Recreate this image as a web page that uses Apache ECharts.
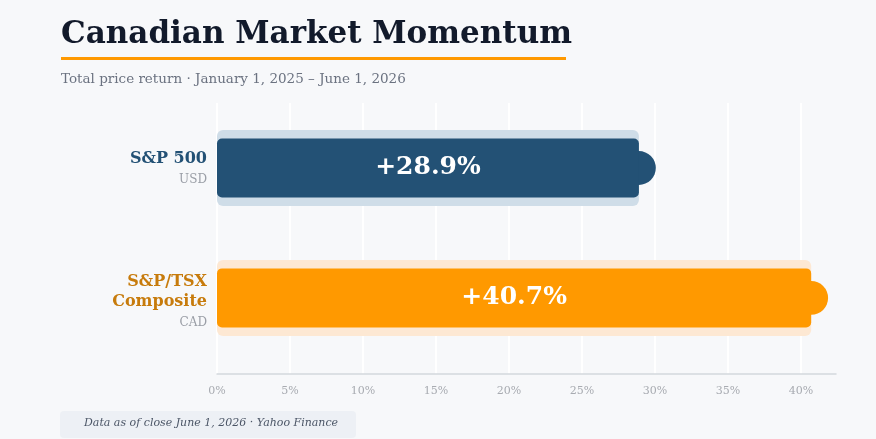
<!DOCTYPE html>
<html>
<head>
<meta charset="utf-8">
<script src="https://cdn.jsdelivr.net/npm/echarts@6/dist/echarts.min.js"></script>
<style>
  html, body { margin: 0; padding: 0; background: #f7f8fa; }
  #main { width: 876px; height: 439px; }
</style>
</head>
<body>
<div id="main"></div>
<script>
// data
var indexNames = ['S&P 500', 'S&P/TSX\nComposite'];
var currencies = ['USD', 'CAD'];
var returns = [28.9, 40.7];
var xTicks = [0, 5, 10, 15, 20, 25, 30, 35, 40];

var barColors = ['#235175', '#ff9900'];
var haloColors = ['#cfdde8', '#fde8d3'];
var nameColors = ['#235175', '#c77b0c'];

var serif = '"DejaVu Serif", "Liberation Serif", Georgia, serif';

var myChart = echarts.init(document.getElementById('main'));

var seriesData = returns.map(function (v, i) { return [i, v]; });

function renderBar(params, api) {
    var i = params.dataIndex;
    var idx = api.value(0);
    var v = api.value(1);
    var start = api.coord([0, idx]);
    var end = api.coord([v, idx]);
    var unit = api.size([0, 1])[1];
    var haloH = unit * 0.585, barH = unit * 0.455, capR = unit * 0.13;
    var x0 = start[0], cy = start[1], w = end[0] - start[0];

    var children = [
        { type: 'rect', shape: { x: x0, y: cy - haloH / 2, width: w, height: haloH, r: 6 },
          style: { fill: haloColors[i] } },
        { type: 'circle', shape: { cx: end[0], cy: cy, r: capR },
          style: { fill: barColors[i] } },
        { type: 'rect', shape: { x: x0, y: cy - barH / 2, width: w, height: barH, r: 5 },
          style: { fill: barColors[i] } },
        { type: 'text', x: x0 + w / 2, y: cy,
          style: { text: '+' + v.toFixed(1) + '%', fill: '#ffffff', font: 'bold 25px ' + serif,
                   align: 'center', verticalAlign: 'middle' } }
    ];
    // category labels left of the axis
    var lines = indexNames[i].split('\n');
    var lh = 20;
    var top = cy - (lines.length * lh + 20) / 2 + 1 + (lines.length - 1) * 3;
    lines.forEach(function (ln, k) {
        children.push({ type: 'text', x: x0 - 10, y: top + k * lh + lh / 2,
            style: { text: ln, fill: nameColors[i], font: 'bold 16px ' + serif,
                     align: 'right', verticalAlign: 'middle' } });
    });
    children.push({ type: 'text', x: x0 - 10, y: top + lines.length * lh + 11,
        style: { text: currencies[i], fill: '#9a9ea6', font: '12px ' + serif,
                 align: 'right', verticalAlign: 'middle' } });
    return { type: 'group', children: children };
}

var option = {
    backgroundColor: '#f7f8fa',
    animation: false,
    title: {
        left: 56,
        top: 14,
        text: 'Canadian Market Momentum',
        textStyle: { fontFamily: serif, fontWeight: 'bold', fontSize: 31, color: '#121a2b' },
        subtext: 'Total price return · January 1, 2025 – June 1, 2026',
        subtextStyle: { fontFamily: serif, fontSize: 13.5, color: '#6b7280' },
        itemGap: 22
    },
    grid: { left: 217, right: 40, top: 103, bottom: 65 },
    xAxis: {
        type: 'value',
        min: 0,
        max: 42.4,
        interval: 5,
        axisLine: { show: true, onZero: false, lineStyle: { color: '#d4d7dd', width: 1.5 } },
        axisTick: { show: false },
        axisLabel: {
            margin: 12,
            color: '#a8abb1',
            fontFamily: serif,
            fontSize: 11,
            showMaxLabel: false,
            formatter: function (v) { return xTicks.indexOf(v) >= 0 ? v + '%' : ''; }
        },
        splitLine: { show: true, showMaxLine: false, lineStyle: { color: '#ffffff', width: 2 } }
    },
    yAxis: {
        type: 'value',
        inverse: true,
        min: -0.5,
        max: 1.585,
        show: false
    },
    series: [{
        type: 'custom',
        renderItem: renderBar,
        encode: { x: 1, y: 0 },
        data: seriesData,
        clip: false
    }],
    graphic: [
        { type: 'rect', left: 61, top: 57, shape: { width: 505, height: 3 },
          style: { fill: '#ff9900' } },
        { type: 'rect', left: 60, top: 411, shape: { width: 296, height: 27, r: 4 },
          style: { fill: '#edf0f5' } },
        { type: 'text', left: 84, top: 418,
          style: { text: 'Data as of close June 1, 2026 · Yahoo Finance', fill: '#4b5566',
                   font: 'italic 11px ' + serif } }
    ]
};

myChart.clear();
myChart.setOption(option);
</script>
</body>
</html>
